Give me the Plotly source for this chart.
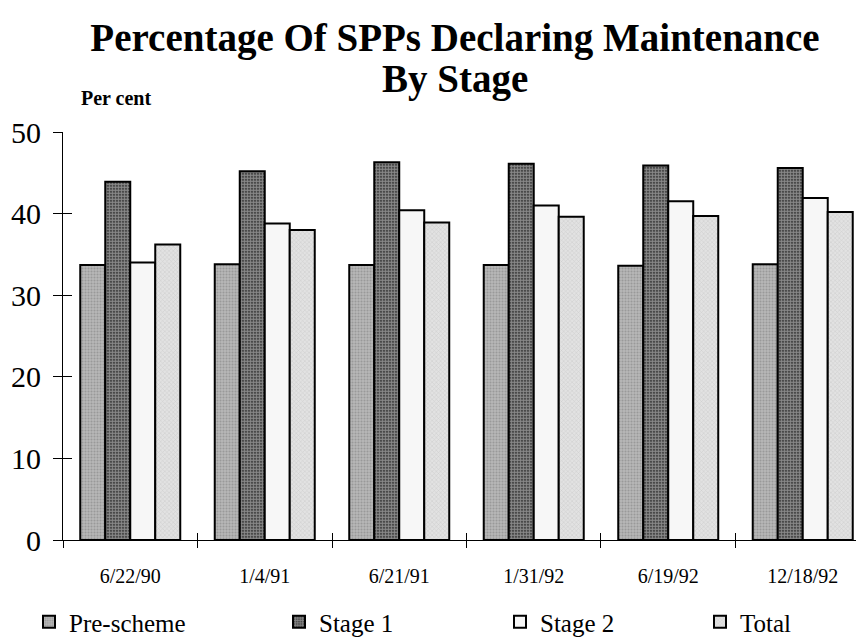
import plotly.graph_objects as go

# Survey dates and percentage of SPPs declaring maintenance at each stage
dates = ["6/22/90", "1/4/91", "6/21/91", "1/31/92", "6/19/92", "12/18/92"]
pre_scheme = [33.7, 33.8, 33.7, 33.7, 33.6, 33.8]
stage_1 = [43.9, 45.2, 46.3, 46.1, 45.9, 45.6]
stage_2 = [34.0, 38.8, 40.4, 41.0, 41.5, 41.9]
total = [36.2, 38.0, 38.9, 39.6, 39.7, 40.2]

y_ticks = [0, 10, 20, 30, 40, 50]

SERIF = "Liberation Serif, Times New Roman, serif"
W, H = 861, 638
ML, MR, MT, MB = 63, 5, 132, 98
PW, PH = W - ML - MR, H - MT - MB


def px_x(x):
    return (x - ML) / PW


def px_y(y):
    return (H - MB - y) / PH


series = [
    ("Pre-scheme", pre_scheme, dict(shape=".", fgcolor="#7a7a7a", bgcolor="#b8b8b8", size=3, solidity=0.4), "legend"),
    ("Stage 1", stage_1, dict(shape=".", fgcolor="#f4f4f4", bgcolor="#1c1c1c", size=3, solidity=0.75), "legend2"),
    ("Stage 2", stage_2, dict(shape=""), "legend3"),
    ("Total", total, dict(shape="x", fgcolor="#b4b4b4", bgcolor="#e2e2e2", size=3, solidity=0.3), "legend4"),
]
fills = {"Pre-scheme": "#a8a8a8", "Stage 1": "#555555", "Stage 2": "#f7f7f7", "Total": "#d8d8d8"}

fig = go.Figure()
for name, vals, pat, leg in series:
    fig.add_trace(go.Bar(
        x=dates, y=vals, name=name, legend=leg,
        marker=dict(color=fills[name], pattern=pat,
                    line=dict(color="black", width=2)),
    ))

# companion axes that carry the inner half of each crossing tick mark
fig.add_trace(go.Scatter(x=[None], y=[None], xaxis="x2", yaxis="y2",
                         mode="none", showlegend=False, hoverinfo="skip"))

x_range = [-0.5, 5.396]
boundaries = [i + 0.5 for i in range(len(dates) - 1)]

fig.update_layout(
    width=W, height=H,
    margin=dict(l=ML, r=MR, t=MT, b=MB, autoexpand=False),
    paper_bgcolor="white", plot_bgcolor="white",
    font=dict(family=SERIF, color="black"),
    barmode="group", bargap=0.2565, bargroupgap=0,
    title=dict(text="<b>Percentage Of SPPs Declaring Maintenance</b>",
               font=dict(size=39, family=SERIF, color="black"),
               x=px_x(455), xanchor="center", xref="paper",
               y=1 - 37 / H, yanchor="middle", yref="container"),
    xaxis=dict(type="category", range=x_range, showgrid=False,
               showline=True, linecolor="black", linewidth=1,
               ticks="outside", ticklen=7, tickcolor="black", tickwidth=1,
               tickson="boundaries", ticklabelstandoff=18, tickangle=0,
               tickfont=dict(size=20, family=SERIF, color="black")),
    yaxis=dict(range=[0, 50], tickvals=y_ticks, showgrid=False, zeroline=False,
               showline=True, linecolor="black", linewidth=1,
               ticks="outside", ticklen=9, tickcolor="black", tickwidth=1,
               ticklabelstandoff=6,
               tickfont=dict(size=30, family=SERIF, color="black")),
    xaxis2=dict(overlaying="x", anchor="y2", range=x_range, tickvals=boundaries,
                showticklabels=False, showgrid=False, zeroline=False,
                showline=False, ticks="inside", ticklen=7,
                tickcolor="black", tickwidth=1),
    yaxis2=dict(overlaying="y", anchor="x2", range=[0, 50], tickvals=y_ticks,
                showticklabels=False, showgrid=False, zeroline=False,
                showline=False, ticks="inside", ticklen=9,
                tickcolor="black", tickwidth=1),
)

# second title line and the unit label
fig.add_annotation(text="<b>By Stage</b>", xref="paper", yref="paper",
                   x=px_x(455), y=px_y(79),
                   xanchor="center", yanchor="middle", showarrow=False,
                   font=dict(size=39, family=SERIF, color="black"))
fig.add_annotation(text="<b>Per cent</b>", xref="paper", yref="paper",
                   x=px_x(116), y=px_y(98),
                   xanchor="center", yanchor="middle", showarrow=False,
                   font=dict(size=20, family=SERIF, color="black"))

# one legend per series so each entry sits at its own spot along the bottom
leg_left = {"legend": 29, "legend2": 279, "legend3": 500, "legend4": 700}
for key, left in leg_left.items():
    fig.update_layout({key: dict(
        xref="container", yref="container", x=left / W, xanchor="left",
        y=1 - 622 / H, yanchor="middle", bgcolor="rgba(0,0,0,0)",
        borderwidth=0, font=dict(size=25, family=SERIF, color="black"),
    )})

fig.write_html("out.html")
